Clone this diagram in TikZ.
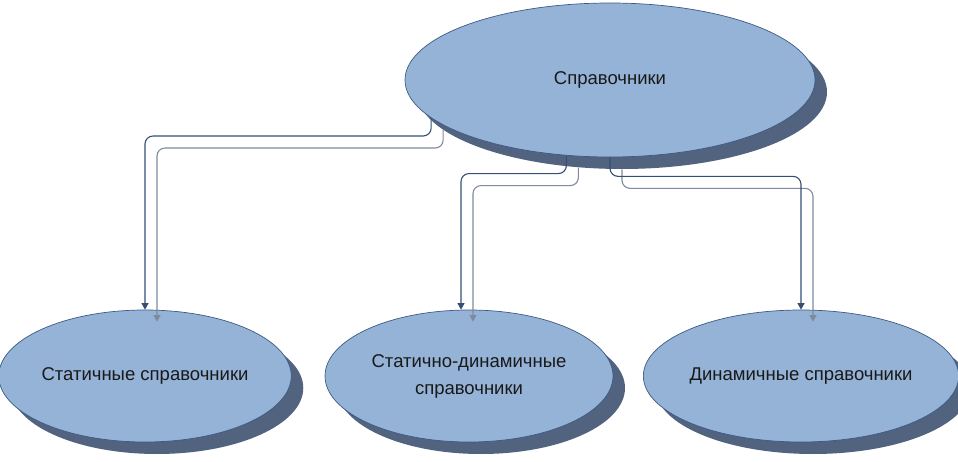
\documentclass[tikz,border=0pt]{standalone}
\usepackage{fontspec}
\setmainfont{Liberation Sans}
\usetikzlibrary{shapes.geometric,shadows,arrows.meta,calc}
\definecolor{fillc}{RGB}{149,179,215}
\definecolor{edgec}{RGB}{60,90,132}
\definecolor{shadowc}{RGB}{82,99,128}
\definecolor{linec}{RGB}{52,78,118}
\definecolor{lineshc}{RGB}{128,138,158}
\tikzset{
  oval/.style={ellipse, draw=edgec, line width=0.7pt, fill=fillc, inner sep=0pt,
    font=\fontsize{18.5}{27}\selectfont, align=center, text=black!90,
    general shadow={fill=shadowc, shadow xshift=12pt, shadow yshift=-12pt}},
  conn/.style={draw=linec, line width=1.1pt, rounded corners=8pt,
    -{Triangle[width=7pt,length=6.5pt]}},
  connsh/.style={draw=lineshc, line width=1.1pt, rounded corners=8pt,
    -{Triangle[width=7pt,length=6.5pt]},
    transform canvas={xshift=12pt,yshift=-12pt}}
}
\begin{document}
\begin{tikzpicture}[x=1pt,y=-1pt]
\useasboundingbox (0,0) rectangle (958,462);
\node[oval, minimum width=410pt, minimum height=154pt] (top) at (610,80) {Справочники};
\node[oval, minimum width=288pt, minimum height=132pt] (left) at (145,376) {Статичные справочники};
\node[oval, minimum width=288pt, minimum height=132pt] (mid) at (469,376) {Статично-динамичные\\справочники};
\node[oval, minimum width=288pt, minimum height=132pt] (right) at (801,376) {Динамичные справочники};
% connector shadows
\draw[connsh] (top.192.4) -- ++(0,18) -| (left.north);
\draw[connsh] (top.240.3) -- ++(0,18) -| ($(mid.north)+(-8,0)$);
\draw[connsh] (top.south) -- ++(0,19) -| (right.north);
% connectors
\draw[conn] (top.192.4) -- ++(0,18) -| (left.north);
\draw[conn] (top.240.3) -- ++(0,18) -| ($(mid.north)+(-8,0)$);
\draw[conn] (top.south) -- ++(0,19) -| (right.north);
\end{tikzpicture}
\end{document}
